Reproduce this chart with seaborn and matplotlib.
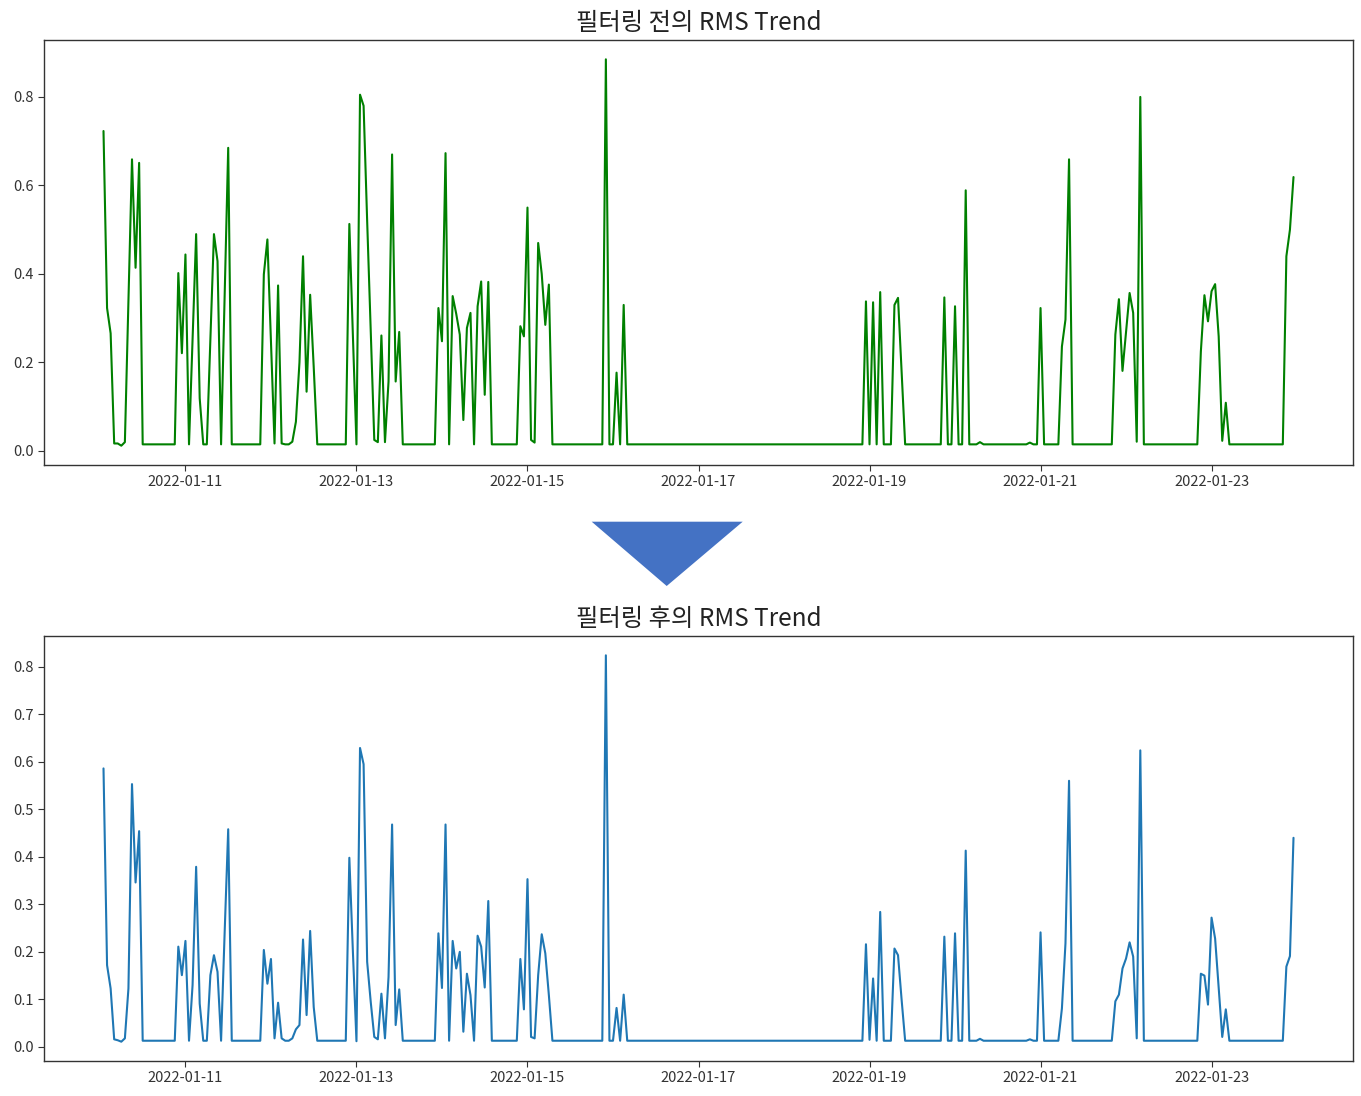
import numpy as np
import pandas as pd
import matplotlib
matplotlib.use("Agg")
import matplotlib.pyplot as plt
import matplotlib.dates as mdates
from matplotlib.ticker import MultipleLocator
from matplotlib.patches import Polygon
import seaborn as sns

# ---------------- data ----------------
start_time = "2022-01-11 00:00"
# hours relative to start_time
hours = [-23, -22, -21, -20, -19, -18, -17, -16, -15, -14, -13, -12,
         -3, -2, -1, 0, 1, 2, 3, 4, 5, 6, 7, 8, 9, 10, 11, 12, 13,
         21, 22, 23, 24, 25, 26, 27, 28, 29, 30, 31, 32, 33, 34, 35, 36, 37,
         45, 46, 47, 48, 49, 50, 51, 52, 53, 54, 55, 56, 57, 58, 59, 60, 61,
         70, 71, 72, 73, 74, 75, 76, 77, 78, 79, 80, 81, 82, 83, 84, 85, 86,
         93, 94, 95, 96, 97, 98, 99, 100, 101, 102, 103,
         117, 118, 119, 120, 121, 122, 123, 124,
         190, 191, 192, 193, 194, 195, 196, 198, 199, 200, 201, 202,
         212, 213, 214, 215, 216, 217, 218, 219, 220, 222, 223, 224,
         236, 237, 238, 239, 240, 241,
         245, 246, 247, 248, 249,
         260, 261, 262, 263, 264, 265, 266, 267, 268, 269,
         284, 285, 286, 287, 288, 289, 290, 291, 292, 293,
         308, 309, 310, 311]

rms_before = [0.723, 0.323, 0.266, 0.017, 0.017, 0.012, 0.020, 0.34, 0.659, 0.414, 0.651, 0.015,
              0.015, 0.402, 0.221, 0.444, 0.015, 0.25, 0.49, 0.119, 0.015, 0.015, 0.25, 0.49, 0.429, 0.015, 0.35, 0.685, 0.015,
              0.015, 0.399, 0.478, 0.25, 0.017, 0.374, 0.017, 0.015, 0.015, 0.021, 0.066, 0.2, 0.44, 0.134, 0.353, 0.19, 0.015,
              0.015, 0.513, 0.26, 0.015, 0.805, 0.78, 0.52, 0.27, 0.025, 0.02, 0.261, 0.02, 0.157, 0.67, 0.157, 0.269, 0.015,
              0.015, 0.323, 0.248, 0.673, 0.015, 0.35, 0.31, 0.263, 0.07, 0.278, 0.312, 0.015, 0.327, 0.383, 0.127, 0.382, 0.015,
              0.015, 0.282, 0.259, 0.55, 0.025, 0.019, 0.47, 0.4, 0.285, 0.376, 0.015,
              0.015, 0.885, 0.015, 0.015, 0.177, 0.015, 0.33, 0.015,
              0.015, 0.338, 0.015, 0.336, 0.015, 0.359, 0.015, 0.015, 0.33, 0.346, 0.18, 0.015,
              0.015, 0.347, 0.015, 0.015, 0.327, 0.015, 0.015, 0.589, 0.015, 0.015, 0.02, 0.015,
              0.015, 0.019, 0.015, 0.015, 0.323, 0.015,
              0.015, 0.236, 0.297, 0.659, 0.015,
              0.015, 0.263, 0.343, 0.181, 0.27, 0.357, 0.312, 0.021, 0.8, 0.015,
              0.015, 0.225, 0.352, 0.293, 0.361, 0.377, 0.259, 0.023, 0.109, 0.015,
              0.015, 0.44, 0.5, 0.619]

rms_after = [0.586, 0.172, 0.123, 0.016, 0.014, 0.011, 0.018, 0.123, 0.553, 0.346, 0.454, 0.013,
             0.013, 0.211, 0.151, 0.223, 0.013, 0.13, 0.379, 0.091, 0.013, 0.013, 0.151, 0.193, 0.158, 0.013, 0.24, 0.458, 0.013,
             0.013, 0.204, 0.133, 0.185, 0.018, 0.093, 0.018, 0.013, 0.013, 0.018, 0.037, 0.046, 0.226, 0.067, 0.244, 0.084, 0.013,
             0.013, 0.398, 0.2, 0.012, 0.629, 0.595, 0.179, 0.095, 0.021, 0.016, 0.112, 0.018, 0.147, 0.468, 0.046, 0.121, 0.013,
             0.013, 0.239, 0.124, 0.468, 0.013, 0.223, 0.165, 0.2, 0.032, 0.154, 0.109, 0.013, 0.234, 0.211, 0.125, 0.307, 0.013,
             0.013, 0.185, 0.079, 0.353, 0.021, 0.018, 0.151, 0.237, 0.197, 0.109, 0.013,
             0.013, 0.824, 0.013, 0.013, 0.082, 0.013, 0.110, 0.013,
             0.013, 0.216, 0.015, 0.144, 0.013, 0.284, 0.013, 0.013, 0.207, 0.193, 0.10, 0.013,
             0.013, 0.232, 0.013, 0.013, 0.239, 0.013, 0.013, 0.413, 0.013, 0.013, 0.017, 0.013,
             0.013, 0.016, 0.013, 0.013, 0.241, 0.013,
             0.013, 0.081, 0.218, 0.56, 0.013,
             0.013, 0.096, 0.11, 0.165, 0.186, 0.22, 0.19, 0.018, 0.624, 0.013,
             0.013, 0.154, 0.15, 0.089, 0.272, 0.228, 0.123, 0.021, 0.079, 0.013,
             0.013, 0.169, 0.191, 0.44]

tick_days = [11, 13, 15, 17, 19, 21, 23]
title_before = "필터링 전의 RMS Trend"
title_after = "필터링 후의 RMS Trend"

# ---------------- plotting ----------------
sns.set_style("white")
plt.rcParams["font.family"] = ["Noto Sans CJK KR", "DejaVu Sans"]
plt.rcParams["axes.edgecolor"] = "#333333"
plt.rcParams["axes.linewidth"] = 1.0

times = pd.Timestamp(start_time) + pd.to_timedelta(hours, unit="h")
df = pd.DataFrame({"time": times, "before": rms_before, "after": rms_after})

W, H = 1361, 1096
fig = plt.figure(figsize=(W / 100, H / 100), dpi=100)
ax1 = fig.add_axes([44 / W, 1 - 465 / H, (1353 - 44) / W, (465 - 40) / H])
ax2 = fig.add_axes([44 / W, 1 - 1061 / H, (1353 - 44) / W, (1061 - 636) / H])

sns.lineplot(data=df, x="time", y="before", ax=ax1, color="green", linewidth=1.5)
sns.lineplot(data=df, x="time", y="after", ax=ax2, color="#1f77b4", linewidth=1.5)

for ax, title, step in [(ax1, title_before, 0.2), (ax2, title_after, 0.1)]:
    ax.set_title(title, fontsize=17.5, pad=7, color="#222222")
    ax.set_xlabel("")
    ax.set_ylabel("")
    ax.xaxis.set_major_locator(mdates.DayLocator(bymonthday=tick_days))
    ax.xaxis.set_major_formatter(mdates.DateFormatter("%Y-%m-%d"))
    ax.yaxis.set_major_locator(MultipleLocator(step))
    ax.yaxis.set_major_formatter(matplotlib.ticker.FormatStrFormatter("%.1f"))
    ax.tick_params(axis="both", labelsize=10.5, colors="#333333", length=4,
                   direction="out", bottom=True, left=True)
    for s in ax.spines.values():
        s.set_visible(True)
        s.set_color("#333333")

# arrow triangle between the panels
tri = Polygon([(591.7 / W, 1 - 521.7 / H), (742.7 / W, 1 - 521.7 / H), (666.7 / W, 1 - 586 / H)],
              closed=True, transform=fig.transFigure, facecolor="#4472C4", edgecolor="none")
fig.patches.append(tri)

fig.savefig("out.png", dpi=100, facecolor="white")
